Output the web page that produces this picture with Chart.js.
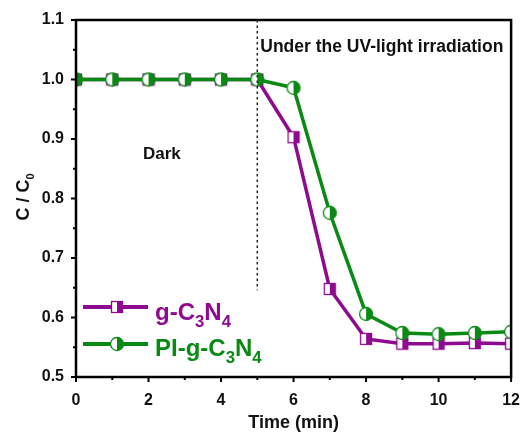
<!DOCTYPE html>
<html>
<head>
<meta charset="utf-8">
<script src="https://cdn.jsdelivr.net/npm/chart.js@4/dist/chart.umd.min.js"></script>
<style>
  html, body { margin: 0; padding: 0; background: #fff; }
  #wrap { width: 526px; height: 432px; }
</style>
</head>
<body>
<div id="wrap"><canvas id="chart" width="526" height="432"></canvas></div>
<script>
// Data
const times = [0, 1, 2, 3, 4, 5, 6, 7, 8, 9, 10, 11, 12];
const gC3N4 = [1.0, 1.0, 1.0, 1.0, 1.0, 1.0, 0.903, 0.648, 0.564, 0.556, 0.556, 0.557, 0.556];
const piC3N4 = [1.0, 1.0, 1.0, 1.0, 1.0, 1.0, 0.986, 0.776, 0.606, 0.574, 0.572, 0.574, 0.576];
const xTicks = [0, 2, 4, 6, 8, 10, 12];
const yTicks = [0.5, 0.6, 0.7, 0.8, 0.9, 1.0, 1.1];

const PURPLE = '#8e0a8e';
const GREEN = '#0a8a14';
const FONT = '"Liberation Sans", Arial, sans-serif';

// half filled markers (left open, right filled)
function halfSquare(color, s) {
    const c = document.createElement('canvas');
    c.width = s + 3; c.height = s + 3;
    const g = c.getContext('2d');
    const o = 1.5;
    g.fillStyle = '#fff';
    g.fillRect(o, o, s, s);
    g.fillStyle = color;
    g.fillRect(o + s / 2, o, s / 2, s);
    g.strokeStyle = color;
    g.lineWidth = 1.3;
    g.strokeRect(o, o, s, s);
    return c;
}

function halfCircle(color, r) {
    const c = document.createElement('canvas');
    c.width = 2 * r + 3; c.height = 2 * r + 3;
    const g = c.getContext('2d');
    const cx = r + 1.5, cy = r + 1.5;
    g.fillStyle = '#fff';
    g.beginPath(); g.arc(cx, cy, r, 0, Math.PI * 2); g.fill();
    g.fillStyle = color;
    g.beginPath(); g.arc(cx, cy, r, -Math.PI / 2, Math.PI / 2); g.closePath(); g.fill();
    g.strokeStyle = color;
    g.lineWidth = 1.3;
    g.beginPath(); g.arc(cx, cy, r, 0, Math.PI * 2); g.stroke();
    return c;
}

const sqMark = halfSquare(PURPLE, 11);
const ciMark = halfCircle(GREEN, 6.5);

// text with subscripts: parts = [[text, isSub], ...]
function drawRich(ctx, x, y, parts, size, color, weight, subScale, subDrop) {
    ctx.fillStyle = color;
    ctx.textBaseline = 'alphabetic';
    ctx.textAlign = 'left';
    parts.forEach(p => {
        const sub = p[1];
        const fs = sub ? size * subScale : size;
        ctx.font = (weight || '') + ' ' + fs + 'px ' + FONT;
        ctx.fillText(p[0], x, sub ? y + size * subDrop : y);
        x += ctx.measureText(p[0]).width;
    });
    return x;
}

const decorations = {
    id: 'decorations',
    afterDraw(chart) {
        const ctx = chart.ctx;
        const xs = chart.scales.x, ys = chart.scales.y;
        const area = chart.chartArea;
        ctx.save();

        // frame
        ctx.strokeStyle = '#000';
        ctx.lineWidth = 2.5;
        ctx.strokeRect(area.left, area.top, area.right - area.left, area.bottom - area.top);

        // tick marks (outward), major + minor
        ctx.lineWidth = 2;
        for (let v = 0; v <= 12; v++) {
            const px = xs.getPixelForValue(v);
            const len = v % 2 === 0 ? 5 : 3;
            ctx.beginPath(); ctx.moveTo(px, area.bottom); ctx.lineTo(px, area.bottom + len); ctx.stroke();
        }
        for (let i = 0; i <= 12; i++) {
            const v = 0.5 + i * 0.05;
            const py = ys.getPixelForValue(v);
            const len = i % 2 === 0 ? 5 : 3;
            ctx.beginPath(); ctx.moveTo(area.left, py); ctx.lineTo(area.left - len, py); ctx.stroke();
        }

        // dotted separator at t = 5
        const sx = xs.getPixelForValue(5);
        ctx.strokeStyle = '#222';
        ctx.lineWidth = 1.5;
        ctx.setLineDash([2.5, 3]);
        ctx.beginPath();
        ctx.moveTo(sx, area.top);
        ctx.lineTo(sx, ys.getPixelForValue(0.646));
        ctx.stroke();
        ctx.setLineDash([]);

        // annotations
        ctx.fillStyle = '#111';
        ctx.font = 'bold 17.5px ' + FONT;
        ctx.textAlign = 'left';
        ctx.textBaseline = 'middle';
        ctx.fillText('Under the UV-light irradiation', sx + 3, ys.getPixelForValue(1.055));
        ctx.font = 'bold 17px ' + FONT;
        ctx.fillText('Dark', 143, ys.getPixelForValue(0.874));

        // axis titles
        ctx.font = 'bold 18px ' + FONT;
        ctx.textAlign = 'center';
        ctx.textBaseline = 'alphabetic';
        ctx.fillText('Time (min)', (area.left + area.right) / 2, 428);

        ctx.save();
        ctx.translate(29, 197);
        ctx.rotate(-Math.PI / 2);
        ctx.font = 'bold 18px ' + FONT;
        const w1 = ctx.measureText('C / C').width;
        ctx.font = 'bold 11px ' + FONT;
        const w2 = ctx.measureText('0').width;
        drawRich(ctx, -(w1 + w2) / 2, 0, [['C / C', false], ['0', true]], 18, '#111', 'bold', 0.62, 0.28);
        ctx.restore();

        // legend
        const rows = [
            { y: 307, base: 320, color: PURPLE, mark: sqMark, parts: [['g-C', false], ['3', true], ['N', false], ['4', true]] },
            { y: 344, base: 356, color: GREEN, mark: ciMark, parts: [['PI-g-C', false], ['3', true], ['N', false], ['4', true]] }
        ];
        rows.forEach(r => {
            ctx.strokeStyle = r.color;
            ctx.lineWidth = 4;
            ctx.beginPath(); ctx.moveTo(83, r.y); ctx.lineTo(148, r.y); ctx.stroke();
            ctx.drawImage(r.mark, 117 - r.mark.width / 2, r.y - r.mark.height / 2);
            drawRich(ctx, 155, r.base, r.parts, 24, r.color, 'bold', 0.7, 0.3);
        });

        ctx.restore();
    }
};

new Chart(document.getElementById('chart'), {
    type: 'line',
    data: {
        labels: times,
        datasets: [
            {
                label: 'g-C3N4',
                data: times.map((t, i) => ({ x: t, y: gC3N4[i] })),
                borderColor: PURPLE,
                backgroundColor: PURPLE,
                borderWidth: 3.5,
                pointStyle: sqMark,
                order: 1
            },
            {
                label: 'PI-g-C3N4',
                data: times.map((t, i) => ({ x: t, y: piC3N4[i] })),
                borderColor: GREEN,
                backgroundColor: GREEN,
                borderWidth: 3.5,
                pointStyle: ciMark,
                order: 0
            }
        ]
    },
    options: {
        responsive: false,
        animation: false,
        layout: { padding: { top: 20, right: 12, left: 0, bottom: 0 } },
        plugins: { legend: { display: false }, tooltip: { enabled: false } },
        scales: {
            x: {
                type: 'linear',
                min: 0, max: 12,
                afterBuildTicks: s => { s.ticks = xTicks.map(v => ({ value: v })); },
                afterFit: s => { s.height = 55; },
                grid: { display: false },
                border: { display: false },
                ticks: {
                    color: '#111',
                    font: { family: FONT, size: 16, weight: 'bold' },
                    padding: 6,
                    maxRotation: 0
                }
            },
            y: {
                min: 0.5, max: 1.1,
                afterBuildTicks: s => { s.ticks = yTicks.map(v => ({ value: v })); },
                afterFit: s => { s.width = 76; },
                grid: { display: false },
                border: { display: false },
                ticks: {
                    color: '#111',
                    font: { family: FONT, size: 16, weight: 'bold' },
                    padding: 4,
                    callback: v => v.toFixed(1)
                }
            }
        }
    },
    plugins: [decorations]
});
</script>
</body>
</html>
